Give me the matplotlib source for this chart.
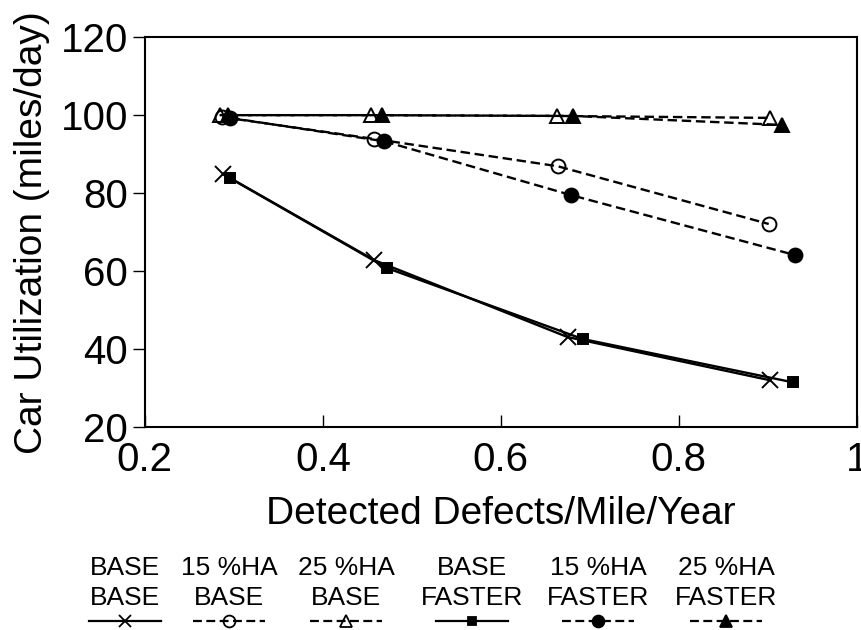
import numpy as np
import matplotlib.pyplot as plt
from matplotlib.lines import Line2D

plt.rcParams['font.family'] = ['Liberation Sans Narrow', 'Liberation Sans', 'DejaVu Sans']

# data
x_base_base = [0.288, 0.458, 0.675, 0.903]
y_base_base = [84.9, 62.8, 43.1, 32.0]
x_15_base = [0.287, 0.458, 0.664, 0.901]
y_15_base = [99.5, 93.9, 86.9, 72.1]
x_25_base = [0.284, 0.454, 0.663, 0.903]
y_25_base = [100.0, 100.0, 99.8, 99.3]
x_base_fast = [0.296, 0.472, 0.692, 0.928]
y_base_fast = [83.8, 60.8, 42.6, 31.5]
x_15_fast = [0.296, 0.469, 0.679, 0.931]
y_15_fast = [99.3, 93.3, 79.5, 64.1]
x_25_fast = [0.294, 0.466, 0.681, 0.916]
y_25_fast = [100.0, 100.0, 99.8, 97.5]

leg_top = ['BASE', '15 %HA', '25 %HA', 'BASE', '15 %HA', '25 %HA']
leg_bot = ['BASE', 'BASE', 'BASE', 'FASTER', 'FASTER', 'FASTER']

series = [
    (x_base_base, y_base_base, '-', 'x', 'k'),
    (x_15_base, y_15_base, (0, (4, 2)), 'o', 'none'),
    (x_25_base, y_25_base, (0, (4, 2)), '^', 'none'),
    (x_base_fast, y_base_fast, '-', 's', 'k'),
    (x_15_fast, y_15_fast, (0, (4, 2)), 'o', 'k'),
    (x_25_fast, y_25_fast, (0, (4, 2)), '^', 'k'),
]
msizes = {'x': 11, 'o': 10, '^': 10, 's': 7}

fig = plt.figure(figsize=(8.62, 6.3), dpi=100)
ax = fig.add_axes([0.168, 0.322, 0.826, 0.619])

for xs, ys, ls, mk, fc in series:
    ax.plot(xs, ys, linestyle=ls, color='k', lw=1.7, marker=mk,
            markersize=msizes[mk], markerfacecolor=fc, markeredgecolor='k',
            markeredgewidth=1.4)

ax.set_xlim(0.2, 1.0)
ax.set_ylim(20, 120)
ax.set_xticks([0.2, 0.4, 0.6, 0.8, 1.0])
ax.set_xticklabels(['0.2', '0.4', '0.6', '0.8', '1'])
ax.set_yticks([20, 40, 60, 80, 100, 120])
ax.tick_params(axis='x', direction='in', length=9, width=1, labelsize=29, pad=10)
ax.tick_params(axis='y', direction='out', length=9, width=1, labelsize=29, pad=3)
for s in ax.spines.values():
    s.set_linewidth(1.5)

ax.set_xlabel('Detected Defects/Mile/Year', fontsize=28, labelpad=12)
ax.set_ylabel('Car Utilization (miles/day)', fontsize=28, labelpad=8)

# legend drawn below the plot, one column per series
col_x = [125, 229, 346, 472, 598, 726]
W, H = 862.0, 630.0
for i, (xs, ys, ls, mk, fc) in enumerate(series):
    cx = col_x[i] / W
    fig.text(cx, 1 - 568 / H, leg_top[i], ha='center', va='center', fontsize=19)
    fig.text(cx, 1 - 598 / H, leg_bot[i], ha='center', va='center', fontsize=19)
    ly = 1 - 621 / H
    fig.add_artist(Line2D([cx - 36 / W, cx + 36 / W], [ly, ly], transform=fig.transFigure,
                          color='k', lw=1.6, linestyle=ls))
    fig.add_artist(Line2D([cx], [ly], transform=fig.transFigure, color='k', lw=0,
                          marker=mk, markersize=msizes[mk] * 0.85, markerfacecolor=fc,
                          markeredgecolor='k', markeredgewidth=1.3))

fig.savefig('out.png', dpi=100)
